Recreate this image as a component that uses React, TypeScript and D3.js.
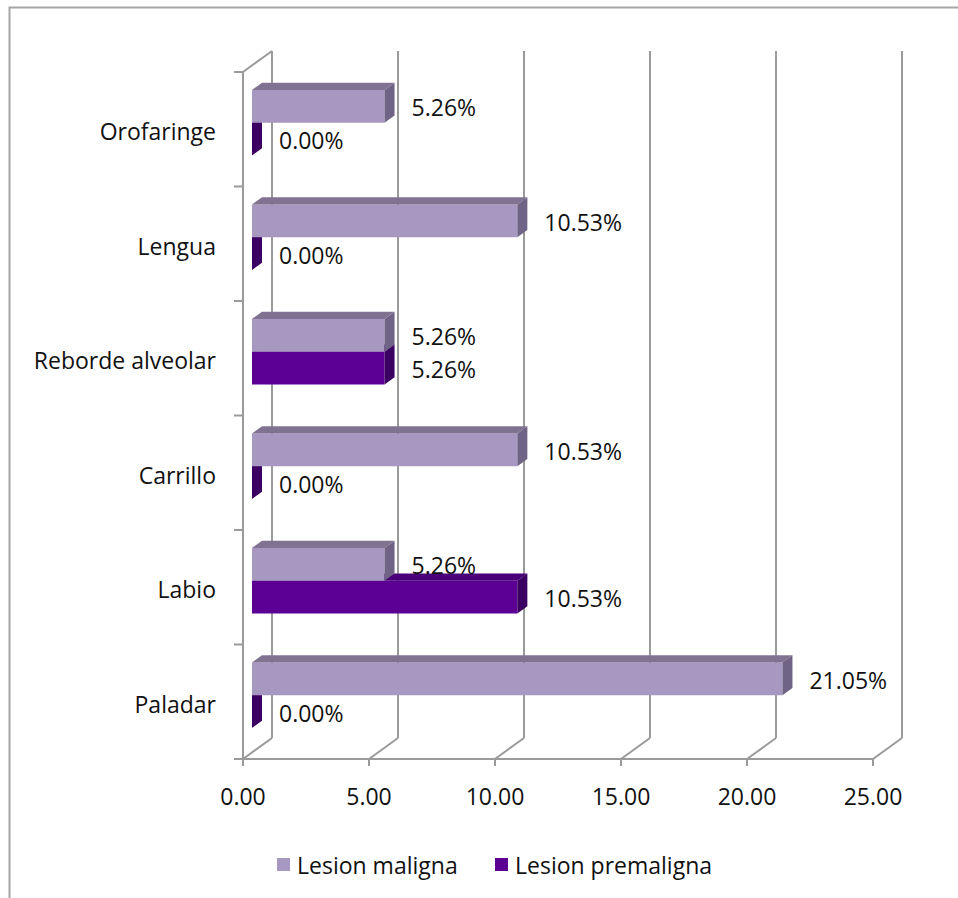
import React from "react";
import * as d3 from "d3";

// Sites of oral lesions, listed top to bottom
const categories = ["Orofaringe", "Lengua", "Reborde alveolar", "Carrillo", "Labio", "Paladar"];
const seriesNames = ["Lesion maligna", "Lesion premaligna"];
const maligna = [5.26, 10.53, 5.26, 10.53, 5.26, 21.05];
const premaligna = [0.0, 0.0, 5.26, 0.0, 10.53, 0.0];
const xTicks = [0, 5, 10, 15, 20, 25];

const W = 958;
const H = 898;
const FONT = "'Open Sans', 'Liberation Sans', sans-serif";
const FS = 23;

// 3D projection: points at depth d (0 = front plane, 1 = back wall) are shifted by d * (DX, DY)
const DX = 29;
const DY = -21;
const BAR_D0 = 0.31;
const BAR_D1 = 0.655;

const palette = [
  { front: "#a698c0", top: "#807392", side: "#6f6485" },
  { front: "#5b0092", top: "#4a0078", side: "#3b0061" },
];

export default function App() {
  const x = d3.scaleLinear().domain([0, 25]).range([243, 873]);
  const yBand = d3.scaleBand<string>().domain(categories).range([72, 759]).paddingInner(0).paddingOuter(0);
  // two bars per category with a 150% gap: each bar is bandwidth / 3.5
  const bw = yBand.bandwidth() / 3.5;
  const barTop = (ci: number, si: number) => (yBand(categories[ci]) as number) + 0.75 * bw + si * bw;

  const floorY = 759;
  const topY = 72;

  const P = (v: number, yf: number, d: number) => [x(v) + d * DX, yf + d * DY] as [number, number];
  const poly = (pts: [number, number][]) => pts.map((p) => p.join(",")).join(" ");

  // bars drawn from the bottom of the chart upward so upper bars overlap lower bar tops
  const bars: JSX.Element[] = [];
  const labels: JSX.Element[] = [];
  for (let ci = categories.length - 1; ci >= 0; ci--) {
    for (let si = 1; si >= 0; si--) {
      const v = si === 0 ? maligna[ci] : premaligna[ci];
      const y0 = barTop(ci, si);
      const y1 = y0 + bw;
      const c = palette[si];
      const key = `${ci}-${si}`;
      bars.push(
        <g key={key}>
          {v > 0 && (
            <polygon points={poly([P(0, y0, BAR_D0), P(v, y0, BAR_D0), P(v, y1, BAR_D0), P(0, y1, BAR_D0)])} fill={c.front} />
          )}
          {v > 0 && (
            <polygon points={poly([P(0, y0, BAR_D0), P(0, y0, BAR_D1), P(v, y0, BAR_D1), P(v, y0, BAR_D0)])} fill={c.top} />
          )}
          <polygon points={poly([P(v, y0, BAR_D0), P(v, y0, BAR_D1), P(v, y1, BAR_D1), P(v, y1, BAR_D0)])} fill={c.side} />
        </g>
      );
      const [lx] = P(v, y0, BAR_D1);
      const [, ly] = P(v, (y0 + y1) / 2, BAR_D0);
      labels.push(
        <text key={"l" + key} x={lx + 17} y={ly + 1} dominantBaseline="central" fontSize={FS} fill="#111" fontFamily={FONT}>
          {v.toFixed(2)}%
        </text>
      );
    }
  }

  const grid = "#9a9a9a";
  const bounds = [...categories.map((c) => yBand(c) as number), floorY];

  return (
    <svg width={W} height={H} style={{ position: "absolute", left: 0, top: 0, background: "#fff" }}>
      <rect x={9.5} y={7.5} width={W + 20} height={H + 20} fill="#fff" stroke="#a6a6a6" strokeWidth={2} />

      {/* back wall gridlines and floor diagonals */}
      {xTicks.map((t) => {
        const [bx, by] = P(t, floorY, 1);
        const [, ty] = P(t, topY, 1);
        return (
          <g key={"g" + t} stroke={grid} strokeWidth={2} fill="none">
            <line x1={x(t)} y1={floorY} x2={bx} y2={by} />
            <line x1={bx} y1={by} x2={bx} y2={ty} />
          </g>
        );
      })}
      {/* left wall, front axis line and ticks */}
      <g stroke={grid} strokeWidth={2} fill="none">
        <line x1={x(0)} y1={topY} x2={x(0)} y2={floorY} />
        <line x1={x(0)} y1={topY} x2={x(0) + DX} y2={topY + DY} />
        <line x1={x(0)} y1={floorY} x2={x(25)} y2={floorY} />
        {bounds.map((b, i) => (
          <line key={"ct" + i} x1={x(0) - 9} y1={b} x2={x(0)} y2={b} />
        ))}
        {xTicks.map((t) => (
          <line key={"xt" + t} x1={x(t)} y1={floorY} x2={x(t)} y2={floorY + 7} />
        ))}
      </g>

      {bars}
      {labels}

      {/* value axis labels */}
      {xTicks.map((t) => (
        <text key={"xl" + t} x={x(t)} y={796} textAnchor="middle" dominantBaseline="central" fontSize={FS} fill="#111" fontFamily={FONT}>
          {t.toFixed(2)}
        </text>
      ))}

      {/* category labels */}
      {categories.map((c) => (
        <text
          key={"c" + c}
          x={216}
          y={(yBand(c) as number) + yBand.bandwidth() / 2 + 2}
          textAnchor="end"
          dominantBaseline="central"
          fontSize={FS}
          fill="#111"
          fontFamily={FONT}
        >
          {c}
        </text>
      ))}

      {/* legend */}
      {seriesNames.map((s, i) => {
        const lx = i === 0 ? 277 : 495;
        return (
          <g key={"lg" + s}>
            <rect x={lx} y={858} width={13} height={13} fill={palette[i].front} />
            <text x={lx + 20} y={865} dominantBaseline="central" fontSize={FS} fill="#111" fontFamily={FONT}>
              {s}
            </text>
          </g>
        );
      })}
    </svg>
  );
}
